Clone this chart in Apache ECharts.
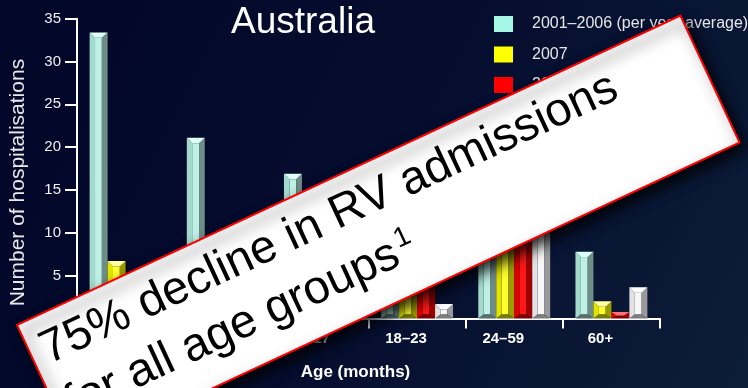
<!DOCTYPE html>
<html>
<head>
<meta charset="utf-8">
<script src="https://cdn.jsdelivr.net/npm/echarts@6/dist/echarts.min.js"></script>
<style>
  html, body { margin: 0; padding: 0; background: #03072a; }
  #chart { width: 748px; height: 388px; }
</style>
</head>
<body>
<div id="chart"></div>
<script>
// Rotavirus hospitalisations by age group, Australia
const ageGroups = ['0–5', '6–11', '12–17', '18–23', '24–59', '60+'];
const seriesNames = ['2001–2006 (per year average)', '2007', '2008', '2009'];
const avg2001to2006 = [33.4, 21.1, 16.9, 12.0, 13.0, 7.8];
const year2007 = [6.7, 5.5, 5.0, 4.4, 9.5, 2.0];
const year2008 = [3.0, 3.5, 4.0, 4.6, 11.0, 0.75];
const year2009 = [2.5, 3.0, 3.0, 1.7, 11.5, 3.65];
const yMin = 0, yMax = 35, yStep = 5;

const FONT = "'Liberation Sans', Arial, Helvetica, sans-serif";
const BAR_SHARE = 0.185; // width of one bar as a share of the category band

// Face shades for the bevelled bars: top, left, centre, right, bottom
const shades = [
  { swatch: '#a6f7e6', top: '#dcfff8', left: '#a3dacd', center: '#bff0e6', right: '#6f8d87', bottom: '#56716c' },
  { swatch: '#ffff00', top: '#ffffa0', left: '#e3e300', center: '#ffff30', right: '#9c9c00', bottom: '#7a7a08' },
  { swatch: '#ff0000', top: '#ff7070', left: '#e00000', center: '#ff1818', right: '#a00000', bottom: '#7c0000' },
  { swatch: '#ffffff', top: '#ffffff', left: '#e2e2e2', center: '#f7f7f7', right: '#9a9a9a', bottom: '#7e7e7e' }
];

function bevelRenderer(slot, shade) {
  return function (params, api) {
    const ci = api.value(0), v = api.value(1);
    const band = api.size([1, 0])[0];
    const w = band * BAR_SHARE;
    const base = api.coord([ci, 0]);
    const tip = api.coord([ci, v]);
    const x0 = base[0] - 2 * w + slot * w, x1 = x0 + w;
    const yT = tip[1], yB = base[1];
    const h = yB - yT;
    let bt = w * 0.3, bb = w * 0.22;
    if (bt + bb > h) { const k = h / (bt + bb); bt *= k; bb *= k; }
    const bl = w * 0.3, br = w * 0.32;
    const ix0 = x0 + bl, ix1 = x1 - br, iyT = yT + bt, iyB = yB - bb;
    const poly = (pts, fill) => ({ type: 'polygon', shape: { points: pts }, style: { fill: fill } });
    return {
      type: 'group',
      children: [
        poly([[ix0, iyT], [ix1, iyT], [ix1, iyB], [ix0, iyB]], shade.center),
        poly([[x0, yT], [ix0, iyT], [ix0, iyB], [x0, yB]], shade.left),
        poly([[x1, yT], [x1, yB], [ix1, iyB], [ix1, iyT]], shade.right),
        poly([[x0, yT], [x1, yT], [ix1, iyT], [ix0, iyT]], shade.top),
        poly([[x0, yB], [ix0, iyB], [ix1, iyB], [x1, yB]], shade.bottom)
      ]
    };
  };
}

const valueSets = [avg2001to2006, year2007, year2008, year2009];
const series = valueSets.map((vals, i) => ({
  type: 'custom',
  name: seriesNames[i],
  renderItem: bevelRenderer(i, shades[i]),
  itemStyle: { color: shades[i].swatch },
  encode: { x: 0, y: 1 },
  data: vals.map((v, k) => [k, v]),
  z: 3
}));

const chart = echarts.init(document.getElementById('chart'), null, { renderer: 'canvas' });
chart.setOption({
  animation: false,
  backgroundColor: {
    type: 'linear', x: 0, y: 0, x2: 1, y2: 1,
    colorStops: [
      { offset: 0, color: '#020628' },
      { offset: 0.5, color: '#050d2e' },
      { offset: 1, color: '#0c1d39' }
    ]
  },
  title: {
    text: 'Australia', left: 231, top: -1, padding: [5, 5, 5, 0],
    textStyle: { color: '#ffffff', fontSize: 37, fontWeight: 'normal', fontFamily: FONT }
  },
  legend: {
    data: seriesNames, orient: 'vertical', left: 494, top: 16, padding: 0,
    icon: 'rect', itemWidth: 19, itemHeight: 16, itemGap: 14.5,
    selectedMode: false,
    textStyle: { color: '#e6e6e6', fontSize: 16, fontFamily: FONT, padding: [0, 0, 0, 14] }
  },
  grid: { left: 76, right: 88, top: 18.7, bottom: 69.5 },
  xAxis: {
    type: 'category', data: ageGroups,
    axisLine: { lineStyle: { color: '#ffffff', width: 2 } },
    axisTick: { show: true, length: 10, lineStyle: { color: '#ffffff', width: 2 } },
    axisLabel: { color: '#ffffff', fontSize: 15, fontWeight: 'bold', fontFamily: FONT, margin: 13, padding: [0, 22, 0, 0] },
    name: 'Age (months)', nameLocation: 'middle', nameGap: 45,
    nameTextStyle: { color: '#ffffff', fontSize: 17, fontWeight: 'bold', fontFamily: FONT, padding: [0, 26, 0, 0] }
  },
  yAxis: {
    type: 'value', min: yMin, max: yMax, interval: yStep,
    axisLine: { show: true, lineStyle: { color: '#ffffff', width: 2 } },
    axisTick: { show: true, length: 12, lineStyle: { color: '#ffffff', width: 2 } },
    splitLine: { show: false },
    axisLabel: { color: '#f0f0f0', fontSize: 15, fontFamily: FONT, margin: 16 },
    name: 'Number of hospitalisations', nameLocation: 'middle', nameGap: 48,
    nameTextStyle: { color: '#e8e8e8', fontSize: 21, fontFamily: FONT, padding: [0, 28, 0, 0] }
  },
  series: series,
  graphic: {
    elements: [{
      type: 'group', x: 17, y: 325, rotation: 25 * Math.PI / 180, z: 100,
      children: [
        {
          type: 'rect', z: 100, shape: { x: 0, y: 0, width: 732, height: 140 },
          style: { fill: '#ffffff', stroke: '#ff0000', lineWidth: 2,
                   shadowBlur: 14, shadowColor: 'rgba(0,0,0,0.85)', shadowOffsetX: 6, shadowOffsetY: 6 }
        },
        {
          type: 'text', z: 101, x: 12, y: 36,
          style: { text: '75% decline in RV admissions', fill: '#000000', font: '47px ' + FONT,
                   align: 'left', verticalAlign: 'middle', textAlign: 'left', textVerticalAlign: 'middle' }
        },
        {
          type: 'text', z: 101, x: 12, y: 95,
          style: {
            text: '{a|for all age groups}{s|1}', fill: '#000000', font: '47px ' + FONT,
            align: 'left', verticalAlign: 'middle', textAlign: 'left', textVerticalAlign: 'middle',
            rich: {
              a: { fontSize: 47, fontFamily: FONT, fill: '#000000', lineHeight: 56 },
              s: { fontSize: 28, fontFamily: FONT, fill: '#000000', lineHeight: 20, padding: [0, 0, 22, 3] }
            }
          }
        }
      ]
    }]
  }
});
</script>
</body>
</html>
